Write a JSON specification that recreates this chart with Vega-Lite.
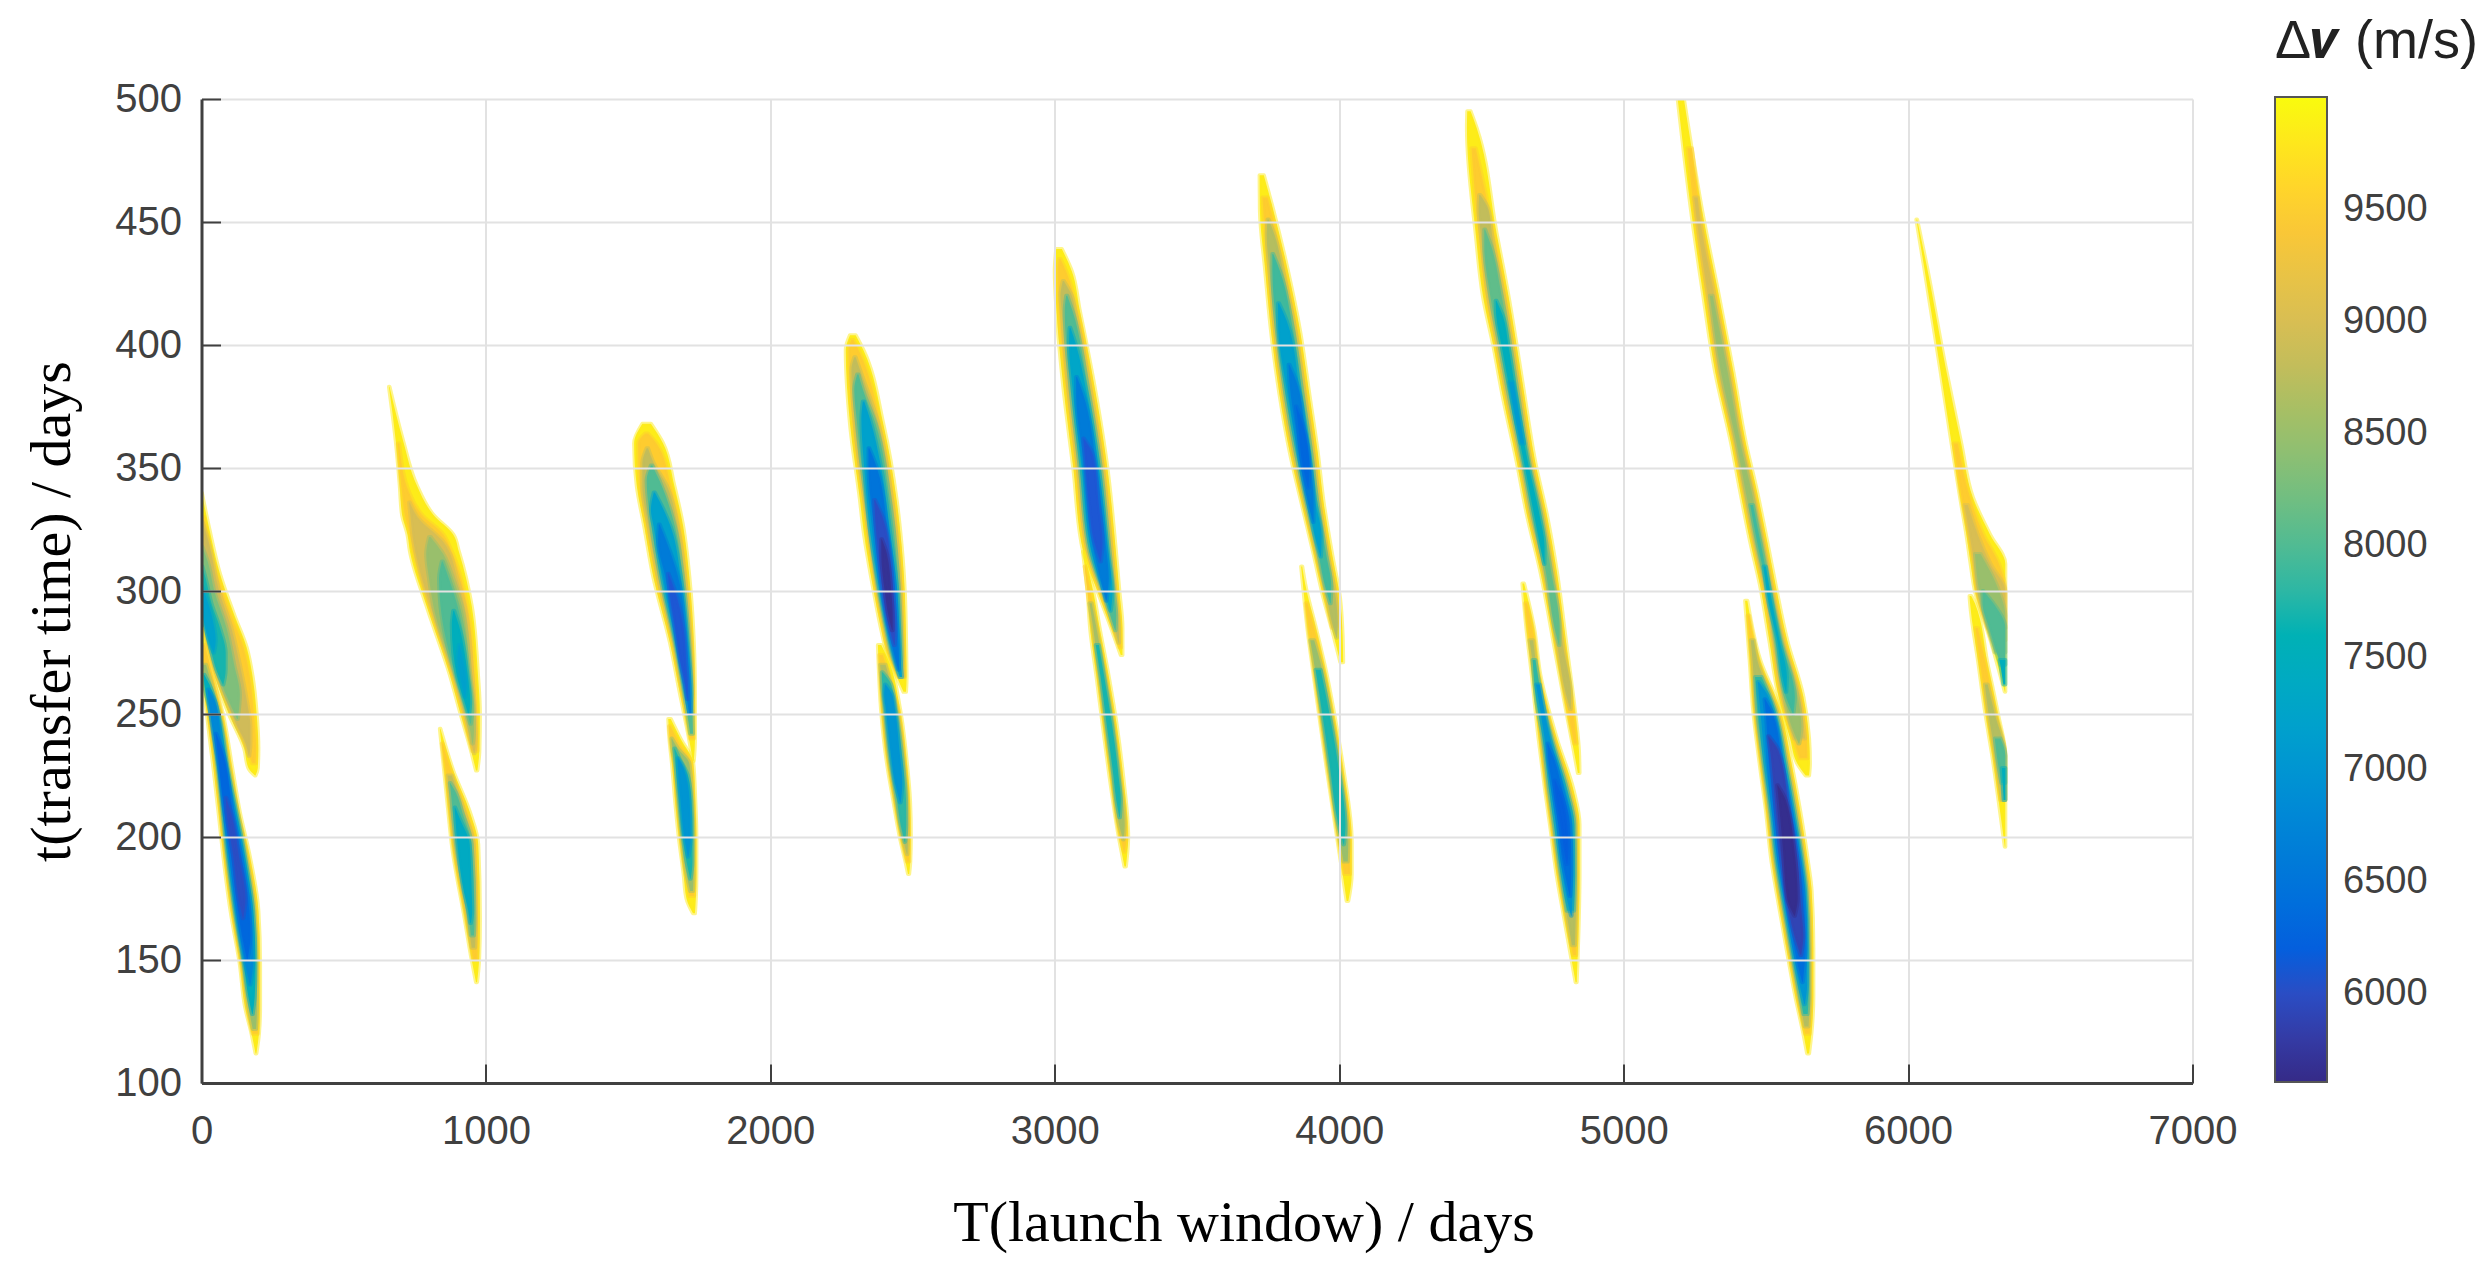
{"$schema":"https://vega.github.io/schema/vega-lite/v6.json","autosize":{"type":"none"},"width":1991,"height":984,"padding":{"left":201.5,"top":99,"right":294.5,"bottom":185},"background":"white","config":{"view":{"stroke":null}},
"data":{"values":[
{"g":1,"v":9850,"t":340,"a":0,"b":1},{"g":1,"v":9850,"t":325,"a":0,"b":28},{"g":1,"v":9850,"t":307,"a":0,"b":65},{"g":1,"v":9850,"t":290,"a":0,"b":116},{"g":1,"v":9850,"t":277,"a":20,"b":159},{"g":1,"v":9850,"t":265,"a":48,"b":180},{"g":1,"v":9850,"t":250,"a":96,"b":194},{"g":1,"v":9850,"t":236,"a":150,"b":200},{"g":1,"v":9850,"t":228,"a":165,"b":198},{"g":1,"v":9850,"t":225,"a":188,"b":190},
{"g":1,"v":9500,"t":330,"a":0,"b":8},{"g":1,"v":9500,"t":307,"a":0,"b":55},{"g":1,"v":9500,"t":290,"a":0,"b":105},{"g":1,"v":9500,"t":277,"a":24,"b":148},{"g":1,"v":9500,"t":265,"a":54,"b":170},{"g":1,"v":9500,"t":250,"a":106,"b":184},{"g":1,"v":9500,"t":236,"a":158,"b":192},{"g":1,"v":9500,"t":230,"a":178,"b":190},
{"g":1,"v":8900,"t":328,"a":0,"b":4},{"g":1,"v":8900,"t":320,"a":0,"b":25},{"g":1,"v":8900,"t":300,"a":0,"b":62},{"g":1,"v":8900,"t":285,"a":10,"b":105},{"g":1,"v":8900,"t":270,"a":42,"b":135},{"g":1,"v":8900,"t":255,"a":88,"b":160},{"g":1,"v":8900,"t":245,"a":125,"b":172},{"g":1,"v":8900,"t":238,"a":155,"b":172},{"g":1,"v":8900,"t":233,"a":166,"b":168},
{"g":1,"v":8300,"t":318,"a":0,"b":3},{"g":1,"v":8300,"t":312,"a":0,"b":22},{"g":1,"v":8300,"t":300,"a":0,"b":45},{"g":1,"v":8300,"t":285,"a":12,"b":88},{"g":1,"v":8300,"t":270,"a":48,"b":115},{"g":1,"v":8300,"t":258,"a":85,"b":135},{"g":1,"v":8300,"t":248,"a":125,"b":128},
{"g":1,"v":7700,"t":310,"a":0,"b":3},{"g":1,"v":7700,"t":305,"a":0,"b":15},{"g":1,"v":7700,"t":295,"a":0,"b":35},{"g":1,"v":7700,"t":285,"a":14,"b":65},{"g":1,"v":7700,"t":275,"a":35,"b":85},{"g":1,"v":7700,"t":268,"a":52,"b":85},{"g":1,"v":7700,"t":262,"a":75,"b":77},
{"g":1,"v":7200,"t":302,"a":0,"b":2},{"g":1,"v":7200,"t":298,"a":0,"b":15},{"g":1,"v":7200,"t":288,"a":8,"b":40},{"g":1,"v":7200,"t":280,"a":25,"b":50},{"g":1,"v":7200,"t":275,"a":42,"b":44},
{"g":2,"v":9850,"t":285,"a":0,"b":1},{"g":2,"v":9850,"t":270,"a":0,"b":28},{"g":2,"v":9850,"t":249,"a":20,"b":77},{"g":2,"v":9850,"t":228,"a":42,"b":108},{"g":2,"v":9850,"t":210,"a":60,"b":135},{"g":2,"v":9850,"t":192,"a":77,"b":170},{"g":2,"v":9850,"t":170,"a":102,"b":200},{"g":2,"v":9850,"t":148,"a":135,"b":206},{"g":2,"v":9850,"t":131,"a":153,"b":206},{"g":2,"v":9850,"t":120,"a":176,"b":202},{"g":2,"v":9850,"t":112,"a":190,"b":193},
{"g":2,"v":9500,"t":278,"a":2,"b":12},{"g":2,"v":9500,"t":249,"a":26,"b":72},{"g":2,"v":9500,"t":228,"a":49,"b":102},{"g":2,"v":9500,"t":210,"a":66,"b":129},{"g":2,"v":9500,"t":192,"a":83,"b":164},{"g":2,"v":9500,"t":170,"a":108,"b":193},{"g":2,"v":9500,"t":148,"a":140,"b":200},{"g":2,"v":9500,"t":131,"a":159,"b":200},{"g":2,"v":9500,"t":120,"a":180,"b":198},
{"g":2,"v":8500,"t":270,"a":4,"b":16},{"g":2,"v":8500,"t":249,"a":31,"b":66},{"g":2,"v":8500,"t":228,"a":54,"b":97},{"g":2,"v":8500,"t":192,"a":88,"b":158},{"g":2,"v":8500,"t":170,"a":113,"b":187},{"g":2,"v":8500,"t":148,"a":145,"b":195},{"g":2,"v":8500,"t":131,"a":165,"b":195},{"g":2,"v":8500,"t":122,"a":180,"b":192},
{"g":2,"v":7500,"t":266,"a":8,"b":10},{"g":2,"v":7500,"t":262,"a":10,"b":28},{"g":2,"v":7500,"t":249,"a":34,"b":62},{"g":2,"v":7500,"t":228,"a":58,"b":92},{"g":2,"v":7500,"t":192,"a":92,"b":153},{"g":2,"v":7500,"t":170,"a":117,"b":182},{"g":2,"v":7500,"t":148,"a":149,"b":190},{"g":2,"v":7500,"t":135,"a":165,"b":187},{"g":2,"v":7500,"t":128,"a":178,"b":180},
{"g":2,"v":6800,"t":260,"a":22,"b":25},{"g":2,"v":6800,"t":255,"a":26,"b":48},{"g":2,"v":6800,"t":240,"a":44,"b":70},{"g":2,"v":6800,"t":228,"a":62,"b":87},{"g":2,"v":6800,"t":192,"a":97,"b":147},{"g":2,"v":6800,"t":170,"a":122,"b":175},{"g":2,"v":6800,"t":150,"a":150,"b":182},{"g":2,"v":6800,"t":140,"a":170,"b":172},
{"g":2,"v":6300,"t":242,"a":50,"b":52},{"g":2,"v":6300,"t":235,"a":56,"b":74},{"g":2,"v":6300,"t":210,"a":80,"b":110},{"g":2,"v":6300,"t":192,"a":104,"b":140},{"g":2,"v":6300,"t":170,"a":128,"b":168},{"g":2,"v":6300,"t":160,"a":142,"b":172},{"g":2,"v":6300,"t":150,"a":160,"b":162},
{"g":2,"v":6000,"t":216,"a":85,"b":87},{"g":2,"v":6000,"t":210,"a":88,"b":104},{"g":2,"v":6000,"t":192,"a":112,"b":132},{"g":2,"v":6000,"t":175,"a":130,"b":155},{"g":2,"v":6000,"t":167,"a":145,"b":147},
{"g":3,"v":9850,"t":383,"a":659,"b":661},{"g":3,"v":9850,"t":361,"a":683,"b":709},{"g":3,"v":9850,"t":343,"a":697,"b":757},{"g":3,"v":9850,"t":331,"a":705,"b":815},{"g":3,"v":9850,"t":323,"a":724,"b":885},{"g":3,"v":9850,"t":316,"a":733,"b":905},{"g":3,"v":9850,"t":294,"a":791,"b":950},{"g":3,"v":9850,"t":266,"a":873,"b":972},{"g":3,"v":9850,"t":250,"a":911,"b":979},{"g":3,"v":9850,"t":235,"a":948,"b":977},{"g":3,"v":9850,"t":227,"a":965,"b":970},
{"g":3,"v":9500,"t":360,"a":690,"b":695},{"g":3,"v":9500,"t":340,"a":705,"b":730},{"g":3,"v":9500,"t":331,"a":715,"b":775},{"g":3,"v":9500,"t":323,"a":733,"b":850},{"g":3,"v":9500,"t":316,"a":745,"b":880},{"g":3,"v":9500,"t":294,"a":800,"b":935},{"g":3,"v":9500,"t":266,"a":880,"b":960},{"g":3,"v":9500,"t":250,"a":918,"b":968},{"g":3,"v":9500,"t":235,"a":952,"b":970},
{"g":3,"v":9000,"t":336,"a":730,"b":732},{"g":3,"v":9000,"t":330,"a":735,"b":760},{"g":3,"v":9000,"t":320,"a":745,"b":850},{"g":3,"v":9000,"t":305,"a":775,"b":900},{"g":3,"v":9000,"t":294,"a":805,"b":925},{"g":3,"v":9000,"t":266,"a":885,"b":952},{"g":3,"v":9000,"t":250,"a":925,"b":962},{"g":3,"v":9000,"t":240,"a":945,"b":965},{"g":3,"v":9000,"t":234,"a":958,"b":960},
{"g":3,"v":8500,"t":322,"a":800,"b":805},{"g":3,"v":8500,"t":315,"a":790,"b":850},{"g":3,"v":8500,"t":305,"a":800,"b":885},{"g":3,"v":8500,"t":294,"a":815,"b":915},{"g":3,"v":8500,"t":266,"a":890,"b":945},{"g":3,"v":8500,"t":250,"a":930,"b":958},{"g":3,"v":8500,"t":243,"a":945,"b":958},{"g":3,"v":8500,"t":238,"a":952,"b":954},
{"g":3,"v":8000,"t":312,"a":845,"b":848},{"g":3,"v":8000,"t":305,"a":835,"b":870},{"g":3,"v":8000,"t":294,"a":840,"b":900},{"g":3,"v":8000,"t":280,"a":860,"b":925},{"g":3,"v":8000,"t":266,"a":893,"b":940},{"g":3,"v":8000,"t":252,"a":930,"b":952},{"g":3,"v":8000,"t":246,"a":945,"b":947},
{"g":3,"v":7500,"t":292,"a":885,"b":888},{"g":3,"v":7500,"t":286,"a":880,"b":905},{"g":3,"v":7500,"t":275,"a":885,"b":925},{"g":3,"v":7500,"t":266,"a":897,"b":935},{"g":3,"v":7500,"t":255,"a":925,"b":945},{"g":3,"v":7500,"t":250,"a":938,"b":940},
{"g":3,"v":7200,"t":278,"a":905,"b":907},{"g":3,"v":7200,"t":272,"a":900,"b":920},{"g":3,"v":7200,"t":262,"a":915,"b":932},{"g":3,"v":7200,"t":257,"a":925,"b":927},
{"g":4,"v":9850,"t":244,"a":838,"b":840},{"g":4,"v":9850,"t":227,"a":853,"b":885},{"g":4,"v":9850,"t":210,"a":868,"b":944},{"g":4,"v":9850,"t":197,"a":880,"b":973},{"g":4,"v":9850,"t":167,"a":925,"b":979},{"g":4,"v":9850,"t":150,"a":950,"b":976},{"g":4,"v":9850,"t":141,"a":965,"b":969},
{"g":4,"v":9500,"t":238,"a":845,"b":848},{"g":4,"v":9500,"t":227,"a":858,"b":878},{"g":4,"v":9500,"t":210,"a":873,"b":935},{"g":4,"v":9500,"t":197,"a":885,"b":965},{"g":4,"v":9500,"t":167,"a":930,"b":972},{"g":4,"v":9500,"t":150,"a":955,"b":970},
{"g":4,"v":8800,"t":225,"a":865,"b":880},{"g":4,"v":8800,"t":210,"a":878,"b":925},{"g":4,"v":8800,"t":197,"a":890,"b":957},{"g":4,"v":8800,"t":167,"a":935,"b":965},{"g":4,"v":8800,"t":155,"a":950,"b":962},
{"g":4,"v":8000,"t":222,"a":873,"b":875},{"g":4,"v":8000,"t":218,"a":877,"b":895},{"g":4,"v":8000,"t":210,"a":883,"b":917},{"g":4,"v":8000,"t":197,"a":895,"b":950},{"g":4,"v":8000,"t":167,"a":940,"b":960},{"g":4,"v":8000,"t":160,"a":947,"b":958},
{"g":4,"v":7400,"t":212,"a":890,"b":892},{"g":4,"v":7400,"t":207,"a":893,"b":910},{"g":4,"v":7400,"t":197,"a":900,"b":943},{"g":4,"v":7400,"t":178,"a":922,"b":950},{"g":4,"v":7400,"t":170,"a":938,"b":952},{"g":4,"v":7400,"t":165,"a":945,"b":947},
{"g":5,"v":9850,"t":368,"a":1550,"b":1580},{"g":5,"v":9850,"t":360,"a":1521,"b":1623},{"g":5,"v":9850,"t":343,"a":1530,"b":1662},{"g":5,"v":9850,"t":326,"a":1557,"b":1694},{"g":5,"v":9850,"t":306,"a":1588,"b":1715},{"g":5,"v":9850,"t":279,"a":1647,"b":1731},{"g":5,"v":9850,"t":259,"a":1681,"b":1735},{"g":5,"v":9850,"t":240,"a":1714,"b":1735},{"g":5,"v":9850,"t":231,"a":1727,"b":1731},
{"g":5,"v":9500,"t":364,"a":1560,"b":1570},{"g":5,"v":9500,"t":360,"a":1535,"b":1600},{"g":5,"v":9500,"t":343,"a":1540,"b":1650},{"g":5,"v":9500,"t":326,"a":1565,"b":1685},{"g":5,"v":9500,"t":306,"a":1596,"b":1707},{"g":5,"v":9500,"t":279,"a":1654,"b":1725},{"g":5,"v":9500,"t":259,"a":1688,"b":1730},{"g":5,"v":9500,"t":240,"a":1718,"b":1731},
{"g":5,"v":8800,"t":358,"a":1565,"b":1570},{"g":5,"v":8800,"t":352,"a":1550,"b":1590},{"g":5,"v":8800,"t":343,"a":1550,"b":1635},{"g":5,"v":8800,"t":326,"a":1572,"b":1675},{"g":5,"v":8800,"t":306,"a":1604,"b":1700},{"g":5,"v":8800,"t":279,"a":1660,"b":1720},{"g":5,"v":8800,"t":259,"a":1692,"b":1727},{"g":5,"v":8800,"t":248,"a":1715,"b":1717},
{"g":5,"v":8000,"t":351,"a":1580,"b":1585},{"g":5,"v":8000,"t":345,"a":1565,"b":1610},{"g":5,"v":8000,"t":326,"a":1582,"b":1665},{"g":5,"v":8000,"t":306,"a":1612,"b":1692},{"g":5,"v":8000,"t":279,"a":1664,"b":1715},{"g":5,"v":8000,"t":259,"a":1696,"b":1724},{"g":5,"v":8000,"t":242,"a":1718,"b":1728},
{"g":5,"v":7200,"t":340,"a":1590,"b":1594},{"g":5,"v":7200,"t":333,"a":1580,"b":1625},{"g":5,"v":7200,"t":326,"a":1590,"b":1650},{"g":5,"v":7200,"t":306,"a":1618,"b":1685},{"g":5,"v":7200,"t":279,"a":1668,"b":1710},{"g":5,"v":7200,"t":259,"a":1700,"b":1722},{"g":5,"v":7200,"t":250,"a":1716,"b":1718},
{"g":5,"v":6600,"t":327,"a":1608,"b":1611},{"g":5,"v":6600,"t":320,"a":1605,"b":1635},{"g":5,"v":6600,"t":306,"a":1630,"b":1675},{"g":5,"v":6600,"t":279,"a":1672,"b":1705},{"g":5,"v":6600,"t":259,"a":1703,"b":1718},{"g":5,"v":6600,"t":250,"a":1715,"b":1722},
{"g":5,"v":6100,"t":307,"a":1640,"b":1642},{"g":5,"v":6100,"t":300,"a":1645,"b":1665},{"g":5,"v":6100,"t":285,"a":1665,"b":1695},{"g":5,"v":6100,"t":270,"a":1685,"b":1705},{"g":5,"v":6100,"t":262,"a":1700,"b":1710},{"g":5,"v":6100,"t":256,"a":1708,"b":1709},
{"g":6,"v":9850,"t":248,"a":1641,"b":1650},{"g":6,"v":9850,"t":240,"a":1645,"b":1684},{"g":6,"v":9850,"t":230,"a":1654,"b":1729},{"g":6,"v":9850,"t":215,"a":1665,"b":1736},{"g":6,"v":9850,"t":200,"a":1678,"b":1740},{"g":6,"v":9850,"t":185,"a":1695,"b":1740},{"g":6,"v":9850,"t":175,"a":1705,"b":1738},{"g":6,"v":9850,"t":169,"a":1728,"b":1735},
{"g":6,"v":9500,"t":245,"a":1644,"b":1649},{"g":6,"v":9500,"t":238,"a":1650,"b":1680},{"g":6,"v":9500,"t":230,"a":1660,"b":1723},{"g":6,"v":9500,"t":215,"a":1671,"b":1730},{"g":6,"v":9500,"t":200,"a":1684,"b":1734},{"g":6,"v":9500,"t":185,"a":1701,"b":1734},{"g":6,"v":9500,"t":176,"a":1716,"b":1732},
{"g":6,"v":8500,"t":240,"a":1652,"b":1654},{"g":6,"v":8500,"t":236,"a":1655,"b":1675},{"g":6,"v":8500,"t":230,"a":1664,"b":1715},{"g":6,"v":8500,"t":215,"a":1675,"b":1726},{"g":6,"v":8500,"t":200,"a":1688,"b":1730},{"g":6,"v":8500,"t":185,"a":1705,"b":1730},{"g":6,"v":8500,"t":178,"a":1718,"b":1728},
{"g":6,"v":7700,"t":236,"a":1662,"b":1664},{"g":6,"v":7700,"t":232,"a":1665,"b":1680},{"g":6,"v":7700,"t":225,"a":1670,"b":1710},{"g":6,"v":7700,"t":215,"a":1679,"b":1722},{"g":6,"v":7700,"t":200,"a":1692,"b":1726},{"g":6,"v":7700,"t":190,"a":1705,"b":1726},{"g":6,"v":7700,"t":183,"a":1718,"b":1720},
{"g":6,"v":7000,"t":232,"a":1674,"b":1676},{"g":6,"v":7000,"t":228,"a":1675,"b":1695},{"g":6,"v":7000,"t":215,"a":1684,"b":1716},{"g":6,"v":7000,"t":200,"a":1697,"b":1720},{"g":6,"v":7000,"t":192,"a":1710,"b":1712},
{"g":7,"v":9850,"t":404,"a":2280,"b":2300},{"g":7,"v":9850,"t":398,"a":2265,"b":2327},{"g":7,"v":9850,"t":368,"a":2280,"b":2397},{"g":7,"v":9850,"t":337,"a":2315,"b":2444},{"g":7,"v":9850,"t":325,"a":2327,"b":2456},{"g":7,"v":9850,"t":299,"a":2365,"b":2473},{"g":7,"v":9850,"t":287,"a":2385,"b":2476},{"g":7,"v":9850,"t":273,"a":2415,"b":2478},{"g":7,"v":9850,"t":265,"a":2445,"b":2479},{"g":7,"v":9850,"t":259,"a":2468,"b":2477},
{"g":7,"v":9500,"t":402,"a":2285,"b":2292},{"g":7,"v":9500,"t":398,"a":2275,"b":2310},{"g":7,"v":9500,"t":368,"a":2289,"b":2388},{"g":7,"v":9500,"t":337,"a":2324,"b":2436},{"g":7,"v":9500,"t":299,"a":2372,"b":2465},{"g":7,"v":9500,"t":287,"a":2392,"b":2468},{"g":7,"v":9500,"t":273,"a":2420,"b":2471},{"g":7,"v":9500,"t":265,"a":2450,"b":2472},
{"g":7,"v":8800,"t":395,"a":2295,"b":2300},{"g":7,"v":8800,"t":390,"a":2285,"b":2315},{"g":7,"v":8800,"t":368,"a":2297,"b":2380},{"g":7,"v":8800,"t":337,"a":2330,"b":2428},{"g":7,"v":8800,"t":299,"a":2378,"b":2459},{"g":7,"v":8800,"t":287,"a":2398,"b":2463},{"g":7,"v":8800,"t":273,"a":2426,"b":2466},{"g":7,"v":8800,"t":265,"a":2455,"b":2468},
{"g":7,"v":8000,"t":388,"a":2305,"b":2310},{"g":7,"v":8000,"t":382,"a":2295,"b":2325},{"g":7,"v":8000,"t":368,"a":2305,"b":2370},{"g":7,"v":8000,"t":337,"a":2336,"b":2420},{"g":7,"v":8000,"t":299,"a":2382,"b":2453},{"g":7,"v":8000,"t":287,"a":2402,"b":2458},{"g":7,"v":8000,"t":273,"a":2430,"b":2462},{"g":7,"v":8000,"t":266,"a":2452,"b":2456},
{"g":7,"v":7200,"t":377,"a":2325,"b":2330},{"g":7,"v":7200,"t":370,"a":2320,"b":2350},{"g":7,"v":7200,"t":350,"a":2330,"b":2390},{"g":7,"v":7200,"t":325,"a":2350,"b":2420},{"g":7,"v":7200,"t":299,"a":2386,"b":2447},{"g":7,"v":7200,"t":287,"a":2406,"b":2452},{"g":7,"v":7200,"t":273,"a":2434,"b":2458},{"g":7,"v":7200,"t":265,"a":2455,"b":2463},
{"g":7,"v":6500,"t":358,"a":2345,"b":2348},{"g":7,"v":6500,"t":350,"a":2345,"b":2375},{"g":7,"v":6500,"t":325,"a":2365,"b":2412},{"g":7,"v":6500,"t":299,"a":2392,"b":2440},{"g":7,"v":6500,"t":287,"a":2410,"b":2446},{"g":7,"v":6500,"t":273,"a":2438,"b":2452},{"g":7,"v":6500,"t":268,"a":2450,"b":2452},
{"g":7,"v":6000,"t":337,"a":2365,"b":2368},{"g":7,"v":6000,"t":330,"a":2368,"b":2395},{"g":7,"v":6000,"t":310,"a":2385,"b":2425},{"g":7,"v":6000,"t":299,"a":2396,"b":2432},{"g":7,"v":6000,"t":285,"a":2418,"b":2440},{"g":7,"v":6000,"t":278,"a":2435,"b":2437},
{"g":7,"v":5700,"t":321,"a":2390,"b":2392},{"g":7,"v":5700,"t":315,"a":2390,"b":2410},{"g":7,"v":5700,"t":300,"a":2402,"b":2425},{"g":7,"v":5700,"t":290,"a":2415,"b":2430},{"g":7,"v":5700,"t":284,"a":2428,"b":2430},
{"g":8,"v":9850,"t":278,"a":2378,"b":2390},{"g":8,"v":9850,"t":272,"a":2380,"b":2415},{"g":8,"v":9850,"t":252,"a":2389,"b":2456},{"g":8,"v":9850,"t":230,"a":2410,"b":2480},{"g":8,"v":9850,"t":215,"a":2432,"b":2491},{"g":8,"v":9850,"t":200,"a":2455,"b":2494},{"g":8,"v":9850,"t":190,"a":2475,"b":2492},{"g":8,"v":9850,"t":185,"a":2484,"b":2488},
{"g":8,"v":9500,"t":274,"a":2383,"b":2395},{"g":8,"v":9500,"t":252,"a":2394,"b":2450},{"g":8,"v":9500,"t":230,"a":2415,"b":2474},{"g":8,"v":9500,"t":215,"a":2437,"b":2485},{"g":8,"v":9500,"t":200,"a":2460,"b":2488},{"g":8,"v":9500,"t":190,"a":2480,"b":2488},
{"g":8,"v":8700,"t":270,"a":2386,"b":2405},{"g":8,"v":8700,"t":252,"a":2398,"b":2445},{"g":8,"v":8700,"t":230,"a":2419,"b":2470},{"g":8,"v":8700,"t":215,"a":2441,"b":2481},{"g":8,"v":8700,"t":200,"a":2464,"b":2484},{"g":8,"v":8700,"t":193,"a":2480,"b":2482},
{"g":8,"v":7800,"t":267,"a":2392,"b":2395},{"g":8,"v":7800,"t":262,"a":2393,"b":2425},{"g":8,"v":7800,"t":252,"a":2402,"b":2441},{"g":8,"v":7800,"t":230,"a":2423,"b":2466},{"g":8,"v":7800,"t":215,"a":2445,"b":2477},{"g":8,"v":7800,"t":205,"a":2458,"b":2478},{"g":8,"v":7800,"t":198,"a":2472,"b":2474},
{"g":8,"v":7000,"t":262,"a":2403,"b":2405},{"g":8,"v":7000,"t":258,"a":2400,"b":2428},{"g":8,"v":7000,"t":252,"a":2406,"b":2438},{"g":8,"v":7000,"t":235,"a":2422,"b":2454},{"g":8,"v":7000,"t":222,"a":2438,"b":2464},{"g":8,"v":7000,"t":214,"a":2456,"b":2458},
{"g":9,"v":9850,"t":439,"a":3005,"b":3025},{"g":9,"v":9850,"t":430,"a":3000,"b":3060},{"g":9,"v":9850,"t":414,"a":3006,"b":3088},{"g":9,"v":9850,"t":383,"a":3030,"b":3140},{"g":9,"v":9850,"t":350,"a":3065,"b":3185},{"g":9,"v":9850,"t":316,"a":3100,"b":3215},{"g":9,"v":9850,"t":300,"a":3150,"b":3227},{"g":9,"v":9850,"t":285,"a":3198,"b":3238},{"g":9,"v":9850,"t":274,"a":3232,"b":3238},
{"g":9,"v":9500,"t":435,"a":3015,"b":3020},{"g":9,"v":9500,"t":430,"a":3010,"b":3040},{"g":9,"v":9500,"t":414,"a":3014,"b":3080},{"g":9,"v":9500,"t":383,"a":3039,"b":3132},{"g":9,"v":9500,"t":350,"a":3073,"b":3177},{"g":9,"v":9500,"t":316,"a":3108,"b":3207},{"g":9,"v":9500,"t":300,"a":3157,"b":3219},{"g":9,"v":9500,"t":285,"a":3204,"b":3231},{"g":9,"v":9500,"t":277,"a":3228,"b":3233},
{"g":9,"v":8800,"t":426,"a":3028,"b":3032},{"g":9,"v":8800,"t":420,"a":3020,"b":3060},{"g":9,"v":8800,"t":414,"a":3024,"b":3072},{"g":9,"v":8800,"t":383,"a":3047,"b":3124},{"g":9,"v":8800,"t":350,"a":3081,"b":3169},{"g":9,"v":8800,"t":316,"a":3116,"b":3200},{"g":9,"v":8800,"t":300,"a":3163,"b":3213},{"g":9,"v":8800,"t":285,"a":3210,"b":3226},{"g":9,"v":8800,"t":279,"a":3224,"b":3226},
{"g":9,"v":8000,"t":420,"a":3040,"b":3044},{"g":9,"v":8000,"t":414,"a":3035,"b":3062},{"g":9,"v":8000,"t":383,"a":3055,"b":3116},{"g":9,"v":8000,"t":350,"a":3088,"b":3162},{"g":9,"v":8000,"t":316,"a":3122,"b":3193},{"g":9,"v":8000,"t":300,"a":3168,"b":3208},{"g":9,"v":8000,"t":290,"a":3195,"b":3216},{"g":9,"v":8000,"t":284,"a":3212,"b":3214},
{"g":9,"v":7300,"t":407,"a":3052,"b":3055},{"g":9,"v":7300,"t":400,"a":3050,"b":3075},{"g":9,"v":7300,"t":383,"a":3062,"b":3108},{"g":9,"v":7300,"t":350,"a":3094,"b":3155},{"g":9,"v":7300,"t":316,"a":3128,"b":3187},{"g":9,"v":7300,"t":300,"a":3172,"b":3203},{"g":9,"v":7300,"t":292,"a":3195,"b":3197},
{"g":9,"v":6600,"t":387,"a":3075,"b":3078},{"g":9,"v":6600,"t":380,"a":3075,"b":3100},{"g":9,"v":6600,"t":350,"a":3104,"b":3147},{"g":9,"v":6600,"t":320,"a":3130,"b":3178},{"g":9,"v":6600,"t":305,"a":3160,"b":3190},{"g":9,"v":6600,"t":296,"a":3180,"b":3182},
{"g":9,"v":6100,"t":362,"a":3100,"b":3102},{"g":9,"v":6100,"t":355,"a":3105,"b":3135},{"g":9,"v":6100,"t":335,"a":3120,"b":3155},{"g":9,"v":6100,"t":320,"a":3138,"b":3168},{"g":9,"v":6100,"t":312,"a":3160,"b":3162},
{"g":10,"v":9850,"t":316,"a":3099,"b":3102},{"g":10,"v":9850,"t":300,"a":3115,"b":3135},{"g":10,"v":9850,"t":284,"a":3125,"b":3159},{"g":10,"v":9850,"t":265,"a":3147,"b":3190},{"g":10,"v":9850,"t":246,"a":3168,"b":3217},{"g":10,"v":9850,"t":225,"a":3192,"b":3240},{"g":10,"v":9850,"t":200,"a":3225,"b":3258},{"g":10,"v":9850,"t":188,"a":3245,"b":3250},
{"g":10,"v":9500,"t":310,"a":3105,"b":3108},{"g":10,"v":9500,"t":284,"a":3132,"b":3152},{"g":10,"v":9500,"t":265,"a":3153,"b":3183},{"g":10,"v":9500,"t":246,"a":3174,"b":3210},{"g":10,"v":9500,"t":225,"a":3198,"b":3233},{"g":10,"v":9500,"t":200,"a":3230,"b":3252},{"g":10,"v":9500,"t":194,"a":3243,"b":3245},
{"g":10,"v":8600,"t":295,"a":3122,"b":3130},{"g":10,"v":8600,"t":284,"a":3136,"b":3148},{"g":10,"v":8600,"t":265,"a":3157,"b":3178},{"g":10,"v":8600,"t":246,"a":3178,"b":3205},{"g":10,"v":8600,"t":225,"a":3202,"b":3228},{"g":10,"v":8600,"t":205,"a":3226,"b":3246},{"g":10,"v":8600,"t":199,"a":3240,"b":3242},
{"g":10,"v":7700,"t":278,"a":3144,"b":3155},{"g":10,"v":7700,"t":265,"a":3161,"b":3174},{"g":10,"v":7700,"t":246,"a":3182,"b":3201},{"g":10,"v":7700,"t":225,"a":3206,"b":3224},{"g":10,"v":7700,"t":215,"a":3216,"b":3232},{"g":10,"v":7700,"t":208,"a":3227,"b":3229},
{"g":11,"v":9850,"t":469,"a":3720,"b":3735},{"g":11,"v":9850,"t":455,"a":3721,"b":3768},{"g":11,"v":9850,"t":430,"a":3740,"b":3820},{"g":11,"v":9850,"t":406,"a":3760,"b":3862},{"g":11,"v":9850,"t":380,"a":3790,"b":3895},{"g":11,"v":9850,"t":356,"a":3827,"b":3925},{"g":11,"v":9850,"t":337,"a":3865,"b":3944},{"g":11,"v":9850,"t":315,"a":3910,"b":3975},{"g":11,"v":9850,"t":297,"a":3945,"b":4003},{"g":11,"v":9850,"t":282,"a":3980,"b":4012},{"g":11,"v":9850,"t":271,"a":4004,"b":4014},
{"g":11,"v":9500,"t":460,"a":3730,"b":3748},{"g":11,"v":9500,"t":430,"a":3748,"b":3812},{"g":11,"v":9500,"t":406,"a":3767,"b":3854},{"g":11,"v":9500,"t":380,"a":3797,"b":3887},{"g":11,"v":9500,"t":356,"a":3834,"b":3917},{"g":11,"v":9500,"t":337,"a":3871,"b":3936},{"g":11,"v":9500,"t":315,"a":3916,"b":3967},{"g":11,"v":9500,"t":297,"a":3951,"b":3995},{"g":11,"v":9500,"t":285,"a":3975,"b":4003},
{"g":11,"v":8700,"t":451,"a":3748,"b":3752},{"g":11,"v":8700,"t":445,"a":3745,"b":3772},{"g":11,"v":8700,"t":430,"a":3755,"b":3803},{"g":11,"v":8700,"t":406,"a":3774,"b":3846},{"g":11,"v":8700,"t":380,"a":3804,"b":3879},{"g":11,"v":8700,"t":356,"a":3841,"b":3909},{"g":11,"v":8700,"t":337,"a":3877,"b":3929},{"g":11,"v":8700,"t":315,"a":3921,"b":3960},{"g":11,"v":8700,"t":297,"a":3957,"b":3988},{"g":11,"v":8700,"t":287,"a":3975,"b":3995},{"g":11,"v":8700,"t":281,"a":3990,"b":3992},
{"g":11,"v":7900,"t":437,"a":3765,"b":3768},{"g":11,"v":7900,"t":430,"a":3765,"b":3792},{"g":11,"v":7900,"t":406,"a":3781,"b":3838},{"g":11,"v":7900,"t":380,"a":3811,"b":3871},{"g":11,"v":7900,"t":356,"a":3848,"b":3902},{"g":11,"v":7900,"t":337,"a":3883,"b":3922},{"g":11,"v":7900,"t":315,"a":3927,"b":3954},{"g":11,"v":7900,"t":302,"a":3950,"b":3972},{"g":11,"v":7900,"t":295,"a":3968,"b":3970},
{"g":11,"v":7200,"t":417,"a":3785,"b":3788},{"g":11,"v":7200,"t":410,"a":3785,"b":3815},{"g":11,"v":7200,"t":380,"a":3818,"b":3863},{"g":11,"v":7200,"t":356,"a":3855,"b":3895},{"g":11,"v":7200,"t":337,"a":3890,"b":3915},{"g":11,"v":7200,"t":322,"a":3915,"b":3938},{"g":11,"v":7200,"t":314,"a":3934,"b":3936},
{"g":11,"v":6600,"t":392,"a":3822,"b":3825},{"g":11,"v":6600,"t":385,"a":3825,"b":3850},{"g":11,"v":6600,"t":365,"a":3848,"b":3880},{"g":11,"v":6600,"t":345,"a":3873,"b":3905},{"g":11,"v":6600,"t":335,"a":3892,"b":3910},{"g":11,"v":6600,"t":328,"a":3908,"b":3910},
{"g":11,"v":6300,"t":375,"a":3848,"b":3850},{"g":11,"v":6300,"t":368,"a":3855,"b":3872},{"g":11,"v":6300,"t":350,"a":3873,"b":3895},{"g":11,"v":6300,"t":342,"a":3890,"b":3892},
{"g":12,"v":9850,"t":310,"a":3866,"b":3870},{"g":12,"v":9850,"t":303,"a":3872,"b":3880},{"g":12,"v":9850,"t":285,"a":3888,"b":3918},{"g":12,"v":9850,"t":266,"a":3910,"b":3956},{"g":12,"v":9850,"t":245,"a":3935,"b":3990},{"g":12,"v":9850,"t":228,"a":3956,"b":4014},{"g":12,"v":9850,"t":198,"a":3995,"b":4044},{"g":12,"v":9850,"t":185,"a":4012,"b":4044},{"g":12,"v":9850,"t":174,"a":4026,"b":4032},
{"g":12,"v":9500,"t":295,"a":3882,"b":3888},{"g":12,"v":9500,"t":285,"a":3892,"b":3912},{"g":12,"v":9500,"t":266,"a":3914,"b":3950},{"g":12,"v":9500,"t":245,"a":3939,"b":3984},{"g":12,"v":9500,"t":228,"a":3960,"b":4008},{"g":12,"v":9500,"t":198,"a":3999,"b":4038},{"g":12,"v":9500,"t":185,"a":4017,"b":4038},
{"g":12,"v":8500,"t":280,"a":3898,"b":3912},{"g":12,"v":8500,"t":266,"a":3918,"b":3945},{"g":12,"v":8500,"t":245,"a":3943,"b":3979},{"g":12,"v":8500,"t":228,"a":3964,"b":4003},{"g":12,"v":8500,"t":198,"a":4003,"b":4032},{"g":12,"v":8500,"t":190,"a":4015,"b":4030},
{"g":12,"v":7700,"t":268,"a":3917,"b":3935},{"g":12,"v":7700,"t":245,"a":3947,"b":3974},{"g":12,"v":7700,"t":228,"a":3968,"b":3998},{"g":12,"v":7700,"t":205,"a":3997,"b":4022},{"g":12,"v":7700,"t":197,"a":4015,"b":4017},
{"g":13,"v":9850,"t":495,"a":4450,"b":4462},{"g":13,"v":9850,"t":488,"a":4449,"b":4484},{"g":13,"v":9850,"t":445,"a":4480,"b":4554},{"g":13,"v":9850,"t":420,"a":4505,"b":4595},{"g":13,"v":9850,"t":399,"a":4543,"b":4625},{"g":13,"v":9850,"t":382,"a":4570,"b":4648},{"g":13,"v":9850,"t":352,"a":4625,"b":4690},{"g":13,"v":9850,"t":331,"a":4660,"b":4730},{"g":13,"v":9850,"t":308,"a":4707,"b":4765},{"g":13,"v":9850,"t":277,"a":4757,"b":4800},{"g":13,"v":9850,"t":250,"a":4800,"b":4830},{"g":13,"v":9850,"t":235,"a":4825,"b":4843},{"g":13,"v":9850,"t":226,"a":4839,"b":4845},
{"g":13,"v":9500,"t":480,"a":4465,"b":4480},{"g":13,"v":9500,"t":445,"a":4490,"b":4545},{"g":13,"v":9500,"t":420,"a":4515,"b":4587},{"g":13,"v":9500,"t":399,"a":4551,"b":4617},{"g":13,"v":9500,"t":382,"a":4578,"b":4640},{"g":13,"v":9500,"t":352,"a":4633,"b":4682},{"g":13,"v":9500,"t":331,"a":4667,"b":4722},{"g":13,"v":9500,"t":308,"a":4714,"b":4757},{"g":13,"v":9500,"t":277,"a":4763,"b":4793},{"g":13,"v":9500,"t":250,"a":4805,"b":4825},{"g":13,"v":9500,"t":238,"a":4826,"b":4835},
{"g":13,"v":8800,"t":461,"a":4492,"b":4496},{"g":13,"v":8800,"t":455,"a":4490,"b":4525},{"g":13,"v":8800,"t":445,"a":4498,"b":4537},{"g":13,"v":8800,"t":420,"a":4523,"b":4579},{"g":13,"v":8800,"t":399,"a":4558,"b":4610},{"g":13,"v":8800,"t":382,"a":4585,"b":4633},{"g":13,"v":8800,"t":352,"a":4639,"b":4675},{"g":13,"v":8800,"t":331,"a":4673,"b":4716},{"g":13,"v":8800,"t":308,"a":4720,"b":4751},{"g":13,"v":8800,"t":277,"a":4768,"b":4788},{"g":13,"v":8800,"t":258,"a":4797,"b":4815},{"g":13,"v":8800,"t":252,"a":4812,"b":4814},
{"g":13,"v":8100,"t":447,"a":4510,"b":4513},{"g":13,"v":8100,"t":440,"a":4510,"b":4535},{"g":13,"v":8100,"t":420,"a":4531,"b":4571},{"g":13,"v":8100,"t":399,"a":4565,"b":4603},{"g":13,"v":8100,"t":382,"a":4592,"b":4626},{"g":13,"v":8100,"t":352,"a":4645,"b":4669},{"g":13,"v":8100,"t":331,"a":4679,"b":4710},{"g":13,"v":8100,"t":308,"a":4726,"b":4745},{"g":13,"v":8100,"t":285,"a":4757,"b":4775},{"g":13,"v":8100,"t":278,"a":4772,"b":4774},
{"g":13,"v":7500,"t":418,"a":4550,"b":4553},{"g":13,"v":7500,"t":412,"a":4552,"b":4575},{"g":13,"v":7500,"t":399,"a":4572,"b":4596},{"g":13,"v":7500,"t":382,"a":4599,"b":4619},{"g":13,"v":7500,"t":352,"a":4650,"b":4664},{"g":13,"v":7500,"t":331,"a":4685,"b":4704},{"g":13,"v":7500,"t":318,"a":4707,"b":4722},{"g":13,"v":7500,"t":311,"a":4720,"b":4722},
{"g":13,"v":7100,"t":385,"a":4598,"b":4612},{"g":13,"v":7100,"t":370,"a":4620,"b":4635},{"g":13,"v":7100,"t":360,"a":4638,"b":4650},
{"g":14,"v":9850,"t":303,"a":4644,"b":4650},{"g":14,"v":9850,"t":285,"a":4658,"b":4685},{"g":14,"v":9850,"t":266,"a":4677,"b":4707},{"g":14,"v":9850,"t":240,"a":4701,"b":4765},{"g":14,"v":9850,"t":219,"a":4724,"b":4824},{"g":14,"v":9850,"t":205,"a":4741,"b":4845},{"g":14,"v":9850,"t":185,"a":4764,"b":4845},{"g":14,"v":9850,"t":165,"a":4794,"b":4842},{"g":14,"v":9850,"t":150,"a":4817,"b":4838},{"g":14,"v":9850,"t":141,"a":4831,"b":4835},
{"g":14,"v":9500,"t":295,"a":4653,"b":4660},{"g":14,"v":9500,"t":285,"a":4663,"b":4680},{"g":14,"v":9500,"t":266,"a":4682,"b":4702},{"g":14,"v":9500,"t":240,"a":4707,"b":4758},{"g":14,"v":9500,"t":219,"a":4729,"b":4815},{"g":14,"v":9500,"t":205,"a":4746,"b":4838},{"g":14,"v":9500,"t":185,"a":4770,"b":4839},{"g":14,"v":9500,"t":165,"a":4800,"b":4836},{"g":14,"v":9500,"t":152,"a":4822,"b":4833},
{"g":14,"v":8700,"t":280,"a":4669,"b":4682},{"g":14,"v":8700,"t":266,"a":4686,"b":4698},{"g":14,"v":8700,"t":240,"a":4712,"b":4752},{"g":14,"v":8700,"t":219,"a":4734,"b":4808},{"g":14,"v":8700,"t":205,"a":4751,"b":4832},{"g":14,"v":8700,"t":185,"a":4775,"b":4834},{"g":14,"v":8700,"t":165,"a":4805,"b":4831},{"g":14,"v":8700,"t":156,"a":4818,"b":4829},
{"g":14,"v":7800,"t":272,"a":4680,"b":4690},{"g":14,"v":7800,"t":255,"a":4693,"b":4715},{"g":14,"v":7800,"t":240,"a":4716,"b":4747},{"g":14,"v":7800,"t":219,"a":4738,"b":4802},{"g":14,"v":7800,"t":205,"a":4755,"b":4827},{"g":14,"v":7800,"t":185,"a":4779,"b":4829},{"g":14,"v":7800,"t":170,"a":4800,"b":4826},
{"g":14,"v":7000,"t":262,"a":4692,"b":4705},{"g":14,"v":7000,"t":240,"a":4722,"b":4742},{"g":14,"v":7000,"t":219,"a":4745,"b":4795},{"g":14,"v":7000,"t":205,"a":4762,"b":4820},{"g":14,"v":7000,"t":185,"a":4785,"b":4823},{"g":14,"v":7000,"t":175,"a":4800,"b":4820},{"g":14,"v":7000,"t":168,"a":4815,"b":4817},
{"g":14,"v":6400,"t":238,"a":4732,"b":4734},{"g":14,"v":6400,"t":232,"a":4735,"b":4755},{"g":14,"v":6400,"t":219,"a":4752,"b":4785},{"g":14,"v":6400,"t":205,"a":4770,"b":4812},{"g":14,"v":6400,"t":190,"a":4785,"b":4816},{"g":14,"v":6400,"t":183,"a":4797,"b":4815},{"g":14,"v":6400,"t":176,"a":4810,"b":4812},
{"g":14,"v":6200,"t":223,"a":4757,"b":4759},{"g":14,"v":6200,"t":218,"a":4760,"b":4778},{"g":14,"v":6200,"t":205,"a":4778,"b":4802},{"g":14,"v":6200,"t":195,"a":4790,"b":4806},{"g":14,"v":6200,"t":189,"a":4800,"b":4802},
{"g":15,"v":9850,"t":500,"a":5190,"b":5212},{"g":15,"v":9850,"t":452,"a":5240,"b":5280},{"g":15,"v":9850,"t":420,"a":5280,"b":5335},{"g":15,"v":9850,"t":389,"a":5322,"b":5386},{"g":15,"v":9850,"t":360,"a":5378,"b":5430},{"g":15,"v":9850,"t":341,"a":5409,"b":5468},{"g":15,"v":9850,"t":320,"a":5445,"b":5505},{"g":15,"v":9850,"t":302,"a":5480,"b":5535},{"g":15,"v":9850,"t":280,"a":5512,"b":5575},{"g":15,"v":9850,"t":257,"a":5545,"b":5632},{"g":15,"v":9850,"t":240,"a":5585,"b":5652},{"g":15,"v":9850,"t":230,"a":5610,"b":5655},{"g":15,"v":9850,"t":225,"a":5640,"b":5652},
{"g":15,"v":9500,"t":480,"a":5225,"b":5240},{"g":15,"v":9500,"t":452,"a":5250,"b":5272},{"g":15,"v":9500,"t":420,"a":5290,"b":5327},{"g":15,"v":9500,"t":389,"a":5330,"b":5378},{"g":15,"v":9500,"t":360,"a":5386,"b":5422},{"g":15,"v":9500,"t":341,"a":5417,"b":5460},{"g":15,"v":9500,"t":320,"a":5453,"b":5497},{"g":15,"v":9500,"t":302,"a":5488,"b":5527},{"g":15,"v":9500,"t":280,"a":5520,"b":5567},{"g":15,"v":9500,"t":257,"a":5552,"b":5624},{"g":15,"v":9500,"t":240,"a":5595,"b":5644},{"g":15,"v":9500,"t":232,"a":5618,"b":5646},
{"g":15,"v":9000,"t":460,"a":5248,"b":5260},{"g":15,"v":9000,"t":452,"a":5256,"b":5268},{"g":15,"v":9000,"t":420,"a":5296,"b":5320},{"g":15,"v":9000,"t":389,"a":5336,"b":5372},{"g":15,"v":9000,"t":360,"a":5392,"b":5416},{"g":15,"v":9000,"t":341,"a":5423,"b":5454},{"g":15,"v":9000,"t":320,"a":5459,"b":5491},{"g":15,"v":9000,"t":302,"a":5494,"b":5521},{"g":15,"v":9000,"t":280,"a":5526,"b":5561},{"g":15,"v":9000,"t":257,"a":5558,"b":5618},{"g":15,"v":9000,"t":240,"a":5600,"b":5638},
{"g":15,"v":8500,"t":420,"a":5303,"b":5313},{"g":15,"v":8500,"t":389,"a":5342,"b":5366},{"g":15,"v":8500,"t":360,"a":5397,"b":5411},{"g":15,"v":8500,"t":341,"a":5428,"b":5449},{"g":15,"v":8500,"t":320,"a":5464,"b":5486},{"g":15,"v":8500,"t":302,"a":5499,"b":5516},{"g":15,"v":8500,"t":280,"a":5531,"b":5556},{"g":15,"v":8500,"t":257,"a":5564,"b":5612},{"g":15,"v":8500,"t":245,"a":5590,"b":5625},{"g":15,"v":8500,"t":238,"a":5615,"b":5618},
{"g":15,"v":7900,"t":335,"a":5445,"b":5455},{"g":15,"v":7900,"t":320,"a":5469,"b":5481},{"g":15,"v":7900,"t":302,"a":5503,"b":5512},{"g":15,"v":7900,"t":280,"a":5535,"b":5552},{"g":15,"v":7900,"t":257,"a":5570,"b":5602},{"g":15,"v":7900,"t":250,"a":5595,"b":5597},
{"g":15,"v":7400,"t":310,"a":5492,"b":5500},{"g":15,"v":7400,"t":295,"a":5510,"b":5522},{"g":15,"v":7400,"t":280,"a":5540,"b":5548},{"g":15,"v":7400,"t":265,"a":5558,"b":5574},{"g":15,"v":7400,"t":259,"a":5570,"b":5572},
{"g":16,"v":9850,"t":296,"a":5427,"b":5435},{"g":16,"v":9850,"t":272,"a":5443,"b":5480},{"g":16,"v":9850,"t":252,"a":5455,"b":5550},{"g":16,"v":9850,"t":230,"a":5478,"b":5590},{"g":16,"v":9850,"t":211,"a":5500,"b":5620},{"g":16,"v":9850,"t":190,"a":5520,"b":5648},{"g":16,"v":9850,"t":178,"a":5537,"b":5661},{"g":16,"v":9850,"t":155,"a":5572,"b":5667},{"g":16,"v":9850,"t":135,"a":5604,"b":5667},{"g":16,"v":9850,"t":120,"a":5632,"b":5660},{"g":16,"v":9850,"t":112,"a":5645,"b":5652},
{"g":16,"v":9500,"t":290,"a":5436,"b":5441},{"g":16,"v":9500,"t":272,"a":5448,"b":5474},{"g":16,"v":9500,"t":252,"a":5460,"b":5543},{"g":16,"v":9500,"t":230,"a":5483,"b":5583},{"g":16,"v":9500,"t":211,"a":5505,"b":5613},{"g":16,"v":9500,"t":190,"a":5526,"b":5641},{"g":16,"v":9500,"t":178,"a":5543,"b":5654},{"g":16,"v":9500,"t":155,"a":5578,"b":5660},{"g":16,"v":9500,"t":135,"a":5610,"b":5660},{"g":16,"v":9500,"t":120,"a":5638,"b":5654},
{"g":16,"v":8700,"t":280,"a":5447,"b":5458},{"g":16,"v":8700,"t":272,"a":5453,"b":5470},{"g":16,"v":8700,"t":252,"a":5465,"b":5537},{"g":16,"v":8700,"t":230,"a":5488,"b":5577},{"g":16,"v":8700,"t":211,"a":5510,"b":5607},{"g":16,"v":8700,"t":190,"a":5531,"b":5635},{"g":16,"v":8700,"t":178,"a":5548,"b":5648},{"g":16,"v":8700,"t":155,"a":5583,"b":5655},{"g":16,"v":8700,"t":135,"a":5616,"b":5655},{"g":16,"v":8700,"t":123,"a":5636,"b":5650},
{"g":16,"v":7800,"t":265,"a":5462,"b":5485},{"g":16,"v":7800,"t":252,"a":5469,"b":5531},{"g":16,"v":7800,"t":230,"a":5492,"b":5571},{"g":16,"v":7800,"t":211,"a":5515,"b":5601},{"g":16,"v":7800,"t":190,"a":5536,"b":5630},{"g":16,"v":7800,"t":178,"a":5553,"b":5643},{"g":16,"v":7800,"t":155,"a":5588,"b":5650},{"g":16,"v":7800,"t":135,"a":5620,"b":5650},{"g":16,"v":7800,"t":128,"a":5632,"b":5647},
{"g":16,"v":7000,"t":263,"a":5472,"b":5475},{"g":16,"v":7000,"t":258,"a":5475,"b":5505},{"g":16,"v":7000,"t":252,"a":5480,"b":5525},{"g":16,"v":7000,"t":230,"a":5498,"b":5565},{"g":16,"v":7000,"t":211,"a":5520,"b":5595},{"g":16,"v":7000,"t":190,"a":5541,"b":5625},{"g":16,"v":7000,"t":178,"a":5558,"b":5638},{"g":16,"v":7000,"t":155,"a":5593,"b":5645},{"g":16,"v":7000,"t":140,"a":5618,"b":5645},{"g":16,"v":7000,"t":132,"a":5635,"b":5637},
{"g":16,"v":6400,"t":256,"a":5495,"b":5498},{"g":16,"v":6400,"t":250,"a":5500,"b":5525},{"g":16,"v":6400,"t":230,"a":5510,"b":5558},{"g":16,"v":6400,"t":211,"a":5527,"b":5589},{"g":16,"v":6400,"t":190,"a":5548,"b":5619},{"g":16,"v":6400,"t":178,"a":5565,"b":5632},{"g":16,"v":6400,"t":155,"a":5600,"b":5640},{"g":16,"v":6400,"t":148,"a":5612,"b":5636},{"g":16,"v":6400,"t":141,"a":5628,"b":5630},
{"g":16,"v":5900,"t":241,"a":5508,"b":5510},{"g":16,"v":5900,"t":235,"a":5515,"b":5545},{"g":16,"v":5900,"t":211,"a":5535,"b":5582},{"g":16,"v":5900,"t":190,"a":5555,"b":5612},{"g":16,"v":5900,"t":170,"a":5580,"b":5625},{"g":16,"v":5900,"t":160,"a":5600,"b":5632},{"g":16,"v":5900,"t":152,"a":5622,"b":5624},
{"g":16,"v":5650,"t":221,"a":5540,"b":5542},{"g":16,"v":5650,"t":215,"a":5545,"b":5570},{"g":16,"v":5650,"t":195,"a":5560,"b":5600},{"g":16,"v":5650,"t":175,"a":5575,"b":5612},{"g":16,"v":5650,"t":168,"a":5600,"b":5602},
{"g":17,"v":9850,"t":451,"a":6029,"b":6032},{"g":17,"v":9850,"t":432,"a":6056,"b":6066},{"g":17,"v":9850,"t":391,"a":6112,"b":6132},{"g":17,"v":9850,"t":360,"a":6153,"b":6187},{"g":17,"v":9850,"t":338,"a":6183,"b":6228},{"g":17,"v":9850,"t":323,"a":6205,"b":6288},{"g":17,"v":9850,"t":311,"a":6220,"b":6342},{"g":17,"v":9850,"t":300,"a":6235,"b":6342},{"g":17,"v":9850,"t":280,"a":6290,"b":6342},{"g":17,"v":9850,"t":259,"a":6340,"b":6342},
{"g":17,"v":9500,"t":360,"a":6160,"b":6175},{"g":17,"v":9500,"t":338,"a":6188,"b":6218},{"g":17,"v":9500,"t":323,"a":6212,"b":6265},{"g":17,"v":9500,"t":311,"a":6228,"b":6320},{"g":17,"v":9500,"t":300,"a":6241,"b":6342},{"g":17,"v":9500,"t":280,"a":6295,"b":6342},
{"g":17,"v":9000,"t":335,"a":6198,"b":6210},{"g":17,"v":9000,"t":323,"a":6216,"b":6245},{"g":17,"v":9000,"t":311,"a":6233,"b":6290},{"g":17,"v":9000,"t":300,"a":6245,"b":6342},{"g":17,"v":9000,"t":285,"a":6280,"b":6342},
{"g":17,"v":8500,"t":315,"a":6235,"b":6255},{"g":17,"v":8500,"t":300,"a":6250,"b":6320},{"g":17,"v":8500,"t":290,"a":6270,"b":6342},{"g":17,"v":8500,"t":275,"a":6305,"b":6342},
{"g":17,"v":8000,"t":300,"a":6262,"b":6265},{"g":17,"v":8000,"t":295,"a":6262,"b":6300},{"g":17,"v":8000,"t":285,"a":6285,"b":6342},{"g":17,"v":8000,"t":270,"a":6325,"b":6342},
{"g":17,"v":7500,"t":272,"a":6322,"b":6342},{"g":17,"v":7500,"t":262,"a":6335,"b":6342},
{"g":18,"v":9850,"t":298,"a":6216,"b":6222},{"g":18,"v":9850,"t":295,"a":6218,"b":6235},{"g":18,"v":9850,"t":270,"a":6248,"b":6280},{"g":18,"v":9850,"t":250,"a":6272,"b":6316},{"g":18,"v":9850,"t":233,"a":6296,"b":6342},{"g":18,"v":9850,"t":215,"a":6318,"b":6342},{"g":18,"v":9850,"t":196,"a":6340,"b":6342},
{"g":18,"v":9500,"t":285,"a":6237,"b":6245},{"g":18,"v":9500,"t":270,"a":6254,"b":6274},{"g":18,"v":9500,"t":250,"a":6278,"b":6310},{"g":18,"v":9500,"t":233,"a":6302,"b":6342},{"g":18,"v":9500,"t":215,"a":6324,"b":6342},
{"g":18,"v":8700,"t":262,"a":6270,"b":6280},{"g":18,"v":8700,"t":250,"a":6283,"b":6305},{"g":18,"v":8700,"t":233,"a":6307,"b":6342},{"g":18,"v":8700,"t":215,"a":6330,"b":6342},
{"g":18,"v":8000,"t":240,"a":6305,"b":6325},{"g":18,"v":8000,"t":233,"a":6312,"b":6342},{"g":18,"v":8000,"t":222,"a":6328,"b":6342},
{"g":18,"v":7500,"t":228,"a":6330,"b":6342},{"g":18,"v":7500,"t":215,"a":6336,"b":6342}
]},
"mark":{"type":"area","orient":"horizontal","interpolate":"monotone","clip":true,"strokeWidth":4,"strokeOpacity":0.5,"strokeJoin":"round"},
"encoding":{
"y":{"field":"t","type":"quantitative","scale":{"domain":[100,500],"nice":false,"zero":false},
"axis":{"values":[100,150,200,250,300,350,400,450,500],"format":"d","zindex":1,"grid":true,"gridColor":"#e2e2e2","gridWidth":2,"domainColor":"#404040","domainWidth":3,"tickColor":"#404040","tickWidth":2,"tickSize":-19,"labelFont":"Liberation Sans","labelFontSize":40,"labelColor":"#404040","labelPadding":39,"labelFlush":false,"labelBound":false,"title":"t(transfer time) / days","titleFont":"Liberation Serif","titleFontWeight":"normal","titleFontSize":58,"titleColor":"#000000","titleAngle":-90,"titleX":-149,"titleY":512,"titleAlign":"center","titleBaseline":"middle"}},
"x":{"field":"a","type":"quantitative","scale":{"domain":[0,7000],"nice":false,"zero":false},
"axis":{"values":[0,1000,2000,3000,4000,5000,6000,7000],"format":"d","zindex":1,"grid":true,"gridColor":"#e2e2e2","gridWidth":2,"domainColor":"#404040","domainWidth":3,"tickColor":"#404040","tickWidth":2,"tickSize":-19,"labelFont":"Liberation Sans","labelFontSize":40,"labelColor":"#404040","labelPadding":47,"labelFlush":false,"labelBound":false,"title":"T(launch window) / days","titleFont":"Liberation Serif","titleFontWeight":"normal","titleFontSize":58,"titleColor":"#000000","titleX":1042,"titleY":140,"titleAlign":"center","titleBaseline":"middle"}},
"x2":{"field":"b"},
"detail":[{"field":"g"},{"field":"v"}],
"stroke":{"field":"v","type":"quantitative","legend":null,"scale":{"domain":[5604,10006],"range":["#352a87","#0f5cdd","#1481d6","#06a4ca","#2eb7a4","#87bf77","#d1bb59","#fec832","#f9fb0e"],"clamp":true}},
"color":{"field":"v","type":"quantitative","scale":{"domain":[5605,10005],"range":["#352a87","#0f5cdd","#1481d6","#06a4ca","#2eb7a4","#87bf77","#d1bb59","#fec832","#f9fb0e"],"clamp":true},
"legend":{"type":"gradient","orient":"none","legendX":2073.5,"legendY":-84,"direction":"vertical","gradientLength":985,"gradientThickness":52,"gradientStrokeColor":"#555555","gradientStrokeWidth":2,"values":[6000,6500,7000,7500,8000,8500,9000,9500],"format":"d","labelFont":"Liberation Sans","labelFontSize":38,"labelColor":"#404040","labelOffset":16,"labelOverlap":false,"title":"Δ𝒗 (m/s)","titleFont":"Liberation Sans","titleFontWeight":"normal","titleFontSize":54,"titleColor":"#222222","titlePadding":28,"titleLimit":400}}
}}
